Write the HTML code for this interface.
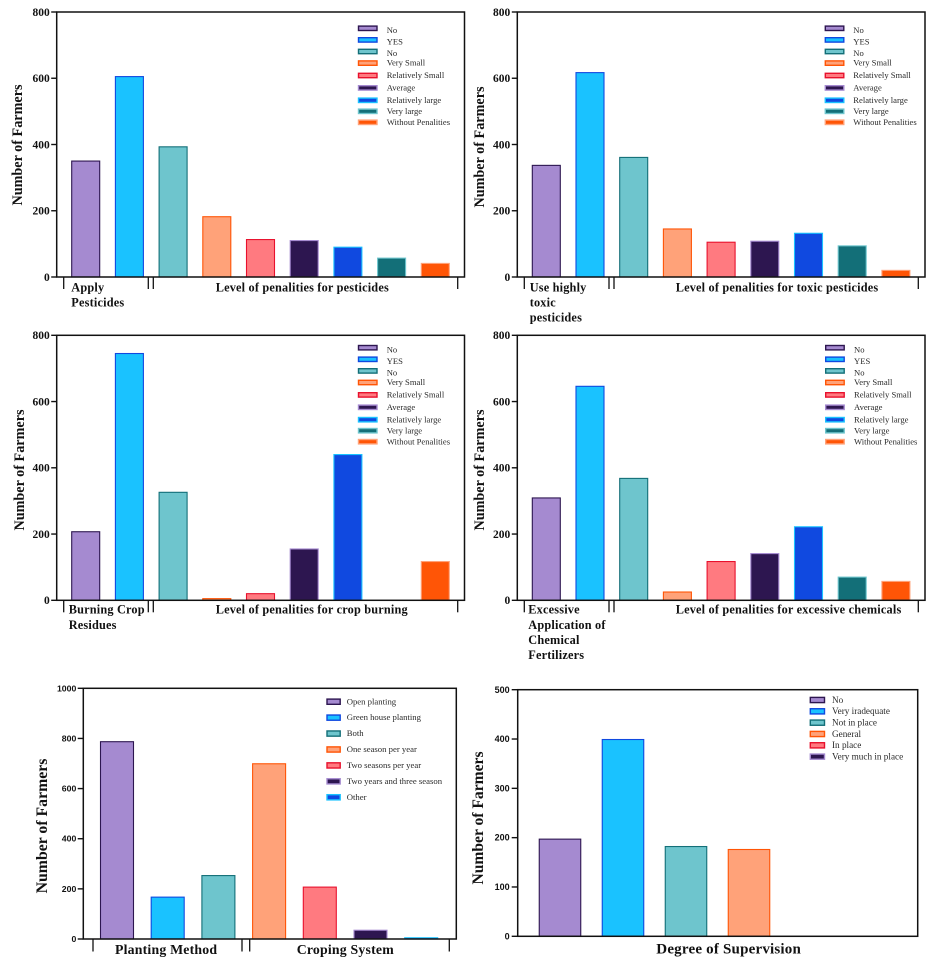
<!DOCTYPE html>
<html lang="en">
<head>
<meta charset="utf-8">
<title>Number of Farmers by practice and penalty level</title>
<style>
  html, body { margin: 0; padding: 0; background: #fff; }
  body { width: 935px; height: 973px; overflow: hidden; }
  svg { display: block; filter: blur(0.35px); }
  text { font-family: "Liberation Serif", serif; fill: #111; }
  .tick-sans { font-family: "Liberation Sans", sans-serif; }
</style>
</head>
<body>
<svg id="figure" width="935" height="973" viewBox="0 0 935 973" xmlns="http://www.w3.org/2000/svg"></svg>
<script>
// ---- Data ----
const penaltyLegend = ['No', 'YES', 'No', 'Very Small', 'Relatively Small', 'Average', 'Relatively large', 'Very large', 'Without Penalities'];
const plantingLegend = ['Open planting', 'Green house planting', 'Both', 'One season per year', 'Two seasons per year', 'Two years and three season', 'Other'];
const supervisionLegend = ['No', 'Very iradequate', 'Not in place', 'General', 'In place', 'Very much in place'];

const pesticideValues = [350, 605, 393, 182, 113, 110, 90, 57, 41];
const toxicValues = [337, 617, 361, 145, 105, 108, 132, 94, 20];
const burningValues = [207, 745, 326, 5, 20, 155, 440, 0, 117];
const chemicalValues = [309, 646, 368, 25, 117, 141, 222, 70, 57];
const plantingValues = [787, 167, 253, 699, 207, 35, 5];
const supervisionValues = [197, 399, 182, 176, 0, 0];

const ticks800 = [0, 200, 400, 600, 800];
const ticks1000 = [0, 200, 400, 600, 800, 1000];
const ticks500 = [0, 100, 200, 300, 400, 500];

const applyLabel = ['Apply', 'Pesticides'];
const toxicLabel = ['Use highly', 'toxic', 'pesticides'];
const burningLabel = ['Burning Crop', 'Residues'];
const chemicalLabel = ['Excessive', 'Application of', 'Chemical', 'Fertilizers'];

// ---- Styles (fill, stroke) by category order ----
const fills = ['#a58ad0', '#1ac2ff', '#6ec5cd', '#ffa279', '#ff7a80', '#2d1650', '#1049e0', '#136f78', '#ff5506'];
const strokes = ['#2d1650', '#1049e0', '#136f78', '#ff5506', '#e8112d', '#a58ad0', '#1ac2ff', '#6ec5cd', '#ffa279'];
const plantingFills = ['#a58ad0', '#1ac2ff', '#6ec5cd', '#ffa279', '#ff7a80', '#2d1650', '#1049e0'];
const plantingStrokes = ['#2d1650', '#1049e0', '#136f78', '#ff5506', '#e8112d', '#a58ad0', '#1ac2ff'];

const NS = 'http://www.w3.org/2000/svg';
const figure = document.getElementById('figure');

function make(parent, tag) {
  const el = document.createElementNS(NS, tag);
  parent.appendChild(el);
  return el;
}
function setAll(el, props) {
  Object.keys(props).forEach(function (k) { el.setAttribute(k, props[k]); });
  return el;
}
function addLine(parent, x1, y1, x2, y2, w) {
  return setAll(make(parent, 'line'), { x1: x1, y1: y1, x2: x2, y2: y2, stroke: '#111', 'stroke-width': w });
}
function addText(parent, str, x, y, size, anchor) {
  const el = setAll(make(parent, 'text'), { x: x, y: y, 'font-size': size, 'text-anchor': anchor || 'start' });
  el.textContent = str;
  return el;
}
// The penalty legends have uneven row spacing: tighter at the top and bottom, wider in the middle.
function penaltyRow(i) {
  if (i <= 3) return i * 11.6;
  if (i <= 6) return 34.8 + (i - 3) * 12.4;
  return 72 + (i - 6) * 11;
}
function evenRow(step) {
  return function (i) { return i * step; };
}

function renderChart(c) {
  const g = make(figure, 'g');
  
  

  const yMax = c.ticks[c.ticks.length - 1];
  const yScale = function (v) { return c.bottom - (v / yMax) * (c.bottom - c.top); };
  const xScale = function (i) { return c.barStart + i * c.barStep; };

  // bars
  c.values.forEach(function (v, i) {
    const bar = make(g, 'rect');
    
    
    setAll(bar, {
      x: xScale(i) - c.barWidth / 2,
      y: yScale(v),
      width: c.barWidth,
      height: c.bottom - yScale(v),
      fill: c.fills[i % c.fills.length],
      stroke: c.strokes[i % c.strokes.length],
      'stroke-width': v > 0 ? 1.1 : 0
    });
  });

  // frame
  const frame = make(g, 'rect');
  
  
  setAll(frame, { x: c.left, y: c.top, width: c.right - c.left, height: c.bottom - c.top, fill: 'none', stroke: '#111', 'stroke-width': 1.5 });

  // y ticks and labels
  c.ticks.forEach(function (t) {
    const tick = addLine(g, c.left - c.tickLen, yScale(t), c.left, yScale(t), 1.4);
    
    
    const label = addText(g, String(t), c.left - c.tickLen - c.tickGap, yScale(t) + c.tickSize * 0.34, c.tickSize, 'end');
    
    
    label.setAttribute('font-weight', 'bold');
    if (c.sansTicks) label.setAttribute('class', 'tick-sans');
  });

  // y title
  const title = addText(g, 'Number of Farmers', 0, 0, c.titleSize, 'middle');
  
  
  title.setAttribute('font-weight', 'bold');
  title.setAttribute('transform', 'translate(' + c.titleX + ' ' + c.titleY + ') rotate(-90)');

  // x groups
  c.groups.forEach(function (gr) {
    if (gr.from !== undefined) {
      [gr.from, gr.to].forEach(function (x) {
        const bracket = addLine(g, x, c.bottom, x, c.bottom + c.bracketLen, 1.3);
        
        
      });
    }
    gr.lines.forEach(function (str, i) {
      const t = addText(g, str, gr.x, gr.y + i * 15.1, c.groupSize);
      
      
      t.setAttribute('font-weight', 'bold');
      t.setAttribute('letter-spacing', c.groupSpacing);
    });
  });

  // legend
  c.legend.forEach(function (str, i) {
    const ly = c.legendTop + c.legendRow(i);
    const entry = make(g, 'g');
    
    
    const sw = make(entry, 'rect');
    
    
    setAll(sw, {
      x: c.swatchX, y: ly - c.swatchH / 2, width: c.swatchW, height: c.swatchH,
      fill: c.fills[i % c.fills.length], stroke: c.strokes[i % c.strokes.length], 'stroke-width': 1.4
    });
    const lt = addText(entry, str, c.legendTextX, ly + c.legendSize * 0.3 + (i < 3 ? c.legendDrop : 0), c.legendSize);
    
    
    lt.setAttribute('style', 'fill:#2a2a2a');
  });
}

function topChart(o) {
  return Object.assign({
    ticks: ticks800, legend: penaltyLegend, fills: fills, strokes: strokes,
    barWidth: 28, barStep: 43.7, tickLen: 5.5, tickGap: 1.5, tickSize: 11.5,
    titleSize: 14.2, bracketLen: 12, groupSize: 12.3, groupSpacing: 0.18,
    swatchW: 18.5, swatchH: 4.4, legendRow: penaltyRow, legendSize: 8.6, legendDrop: 2
  }, o);
}

renderChart(topChart({
  name: 'chart-apply-pesticides', values: pesticideValues,
  left: 56.7, right: 464.5, top: 12, bottom: 277, barStart: 85.7,
  titleX: 22, titleY: 145,
  groups: [
    { from: 63.7, to: 148.3, x: 71.3, y: 291.5, lines: applyLabel },
    { from: 153.3, to: 457.7, x: 215.7, y: 291.5, lines: ['Level of penalities for pesticides'] }
  ],
  swatchX: 358.5, legendTextX: 386.7, legendTop: 28.3
}));

renderChart(topChart({
  name: 'chart-toxic-pesticides', values: toxicValues,
  left: 517.3, right: 925, top: 12, bottom: 277, barStart: 546.3,
  titleX: 484, titleY: 147,
  groups: [
    { from: 524.3, to: 609, x: 529.7, y: 291.5, lines: toxicLabel },
    { from: 614, to: 918.3, x: 675.7, y: 291.5, lines: ['Level of penalities for toxic pesticides'] }
  ],
  swatchX: 825.3, legendTextX: 853.3, legendTop: 28.3
}));

renderChart(topChart({
  name: 'chart-burning-residues', values: burningValues,
  left: 56.7, right: 464.5, top: 335.3, bottom: 600.3, barStart: 85.7,
  titleX: 24, titleY: 470,
  groups: [
    { from: 63.7, to: 148.3, x: 68.7, y: 613.7, lines: burningLabel },
    { from: 153.3, to: 457.7, x: 215.7, y: 613.7, lines: ['Level of penalities for crop burning'] }
  ],
  swatchX: 358.5, legendTextX: 386.7, legendTop: 347.7
}));

renderChart(topChart({
  name: 'chart-chemical-fertilizers', values: chemicalValues,
  left: 517.3, right: 925, top: 335.3, bottom: 600.3, barStart: 546.3,
  titleX: 484, titleY: 470,
  groups: [
    { from: 524.3, to: 609, x: 528.3, y: 613.7, lines: chemicalLabel },
    { from: 614, to: 918.3, x: 675.7, y: 613.7, lines: ['Level of penalities for excessive chemicals'] }
  ],
  swatchX: 825.7, legendTextX: 854, legendTop: 347.7
}));

renderChart({
  name: 'chart-planting-cropping', values: plantingValues, ticks: ticks1000,
  legend: plantingLegend, fills: plantingFills, strokes: plantingStrokes,
  left: 83.3, right: 456.3, top: 688.3, bottom: 939, barStart: 117, barStep: 50.7, barWidth: 33,
  tickLen: 5.6, tickGap: 1.4, tickSize: 8.7, sansTicks: true,
  titleSize: 15.8, titleX: 47, titleY: 826,
  bracketLen: 12.5, groupSize: 13.8, groupSpacing: 0.2,
  groups: [
    { from: 93, to: 242, x: 115, y: 954, lines: ['Planting Method'] },
    { from: 249.7, to: 449.3, x: 296.7, y: 954, lines: ['Croping System'] }
  ],
  swatchX: 327, swatchW: 13.2, swatchH: 5.2, legendTextX: 346.7, legendTop: 701.7, legendRow: evenRow(15.93), legendSize: 8.7, legendDrop: 0
});

renderChart({
  name: 'chart-supervision', values: supervisionValues, ticks: ticks500,
  legend: supervisionLegend, fills: fills, strokes: strokes,
  left: 517.7, right: 917.7, top: 689.7, bottom: 936.3, barStart: 560, barStep: 63, barWidth: 41.5,
  tickLen: 6, tickGap: 2, tickSize: 9, sansTicks: true,
  titleSize: 15.6, titleX: 483, titleY: 818,
  bracketLen: 0, groupSize: 15, groupSpacing: 0.2,
  groups: [{ x: 656.3, y: 953.3, lines: ['Degree of Supervision'] }],
  swatchX: 810.3, swatchW: 14.2, swatchH: 5.2, legendTextX: 832, legendTop: 700, legendRow: evenRow(11.33), legendSize: 9.2, legendDrop: 0
});
</script>
</body>
</html>
